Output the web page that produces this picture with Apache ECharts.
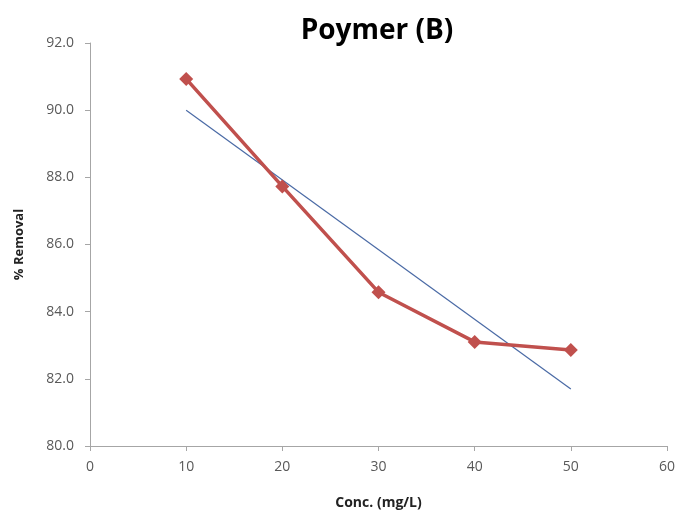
<!DOCTYPE html>
<html>
<head>
<meta charset="utf-8">
<script src="https://cdn.jsdelivr.net/npm/echarts@6/dist/echarts.min.js"></script>
<style>
  html, body { margin: 0; padding: 0; background: #fff; }
  #chart { width: 681px; height: 515px; }
</style>
</head>
<body>
<div id="chart"></div>
<script>
// data
const concValues = [10, 20, 30, 40, 50];
const removalValues = [90.93, 87.73, 84.58, 83.1, 82.86];
// linear trend line end points
const trendX = [10, 50];
const trendY = [90.0, 81.7];

const removalData = concValues.map((x, i) => [x, removalValues[i]]);
const trendData = trendX.map((x, i) => [x, trendY[i]]);

const labelColor = "#595959";
const axisColor = "#a6a6a6";
const font = "'Open Sans', 'Liberation Sans', sans-serif";

const chart = echarts.init(document.getElementById("chart"), null, { renderer: "canvas" });
chart.setOption({
  animation: false,
  backgroundColor: "#fff",
  title: {
    text: "Poymer (B)",
    left: 372,
    top: 12,
    textAlign: "center",
    textStyle: { fontFamily: font, fontSize: 28, fontWeight: "bold", color: "#000" },
  },
  grid: { left: 90, right: 14, top: 43, bottom: 67 },
  xAxis: {
    type: "value",
    min: 0,
    max: 60,
    interval: 10,
    name: "Conc. (mg/L)",
    nameLocation: "middle",
    nameGap: 50,
    nameTextStyle: { fontFamily: font, fontSize: 14, fontWeight: "bold", color: "#222" },
    axisLine: { lineStyle: { color: axisColor, width: 1 } },
    axisTick: { show: true, length: 5, lineStyle: { color: axisColor } },
    axisLabel: { fontFamily: font, fontSize: 14, color: labelColor, margin: 14 },
    splitLine: { show: false },
  },
  yAxis: {
    type: "value",
    min: 80,
    max: 92,
    interval: 2,
    name: "% Removal",
    nameLocation: "middle",
    nameGap: 64,
    nameRotate: 90,
    nameTextStyle: { fontFamily: font, fontSize: 13, fontWeight: "bold", color: "#222" },
    axisLine: { show: true, lineStyle: { color: axisColor, width: 1 } },
    axisTick: { show: true, length: 5, lineStyle: { color: axisColor } },
    axisLabel: {
      fontFamily: font, fontSize: 14, color: labelColor, margin: 16,
      formatter: (v) => v.toFixed(1),
    },
    splitLine: { show: false },
  },
  series: [
    {
      name: "Removal",
      type: "line",
      data: removalData,
      symbol: "diamond",
      symbolSize: 14,
      lineStyle: { color: "#c0504d", width: 3.5 },
      itemStyle: { color: "#c0504d" },
      z: 3,
    },
    {
      name: "Trend",
      type: "line",
      data: trendData,
      symbol: "none",
      lineStyle: { color: "#4a6aa5", width: 1.2 },
      z: 2,
    },
  ],
});
</script>
</body>
</html>
